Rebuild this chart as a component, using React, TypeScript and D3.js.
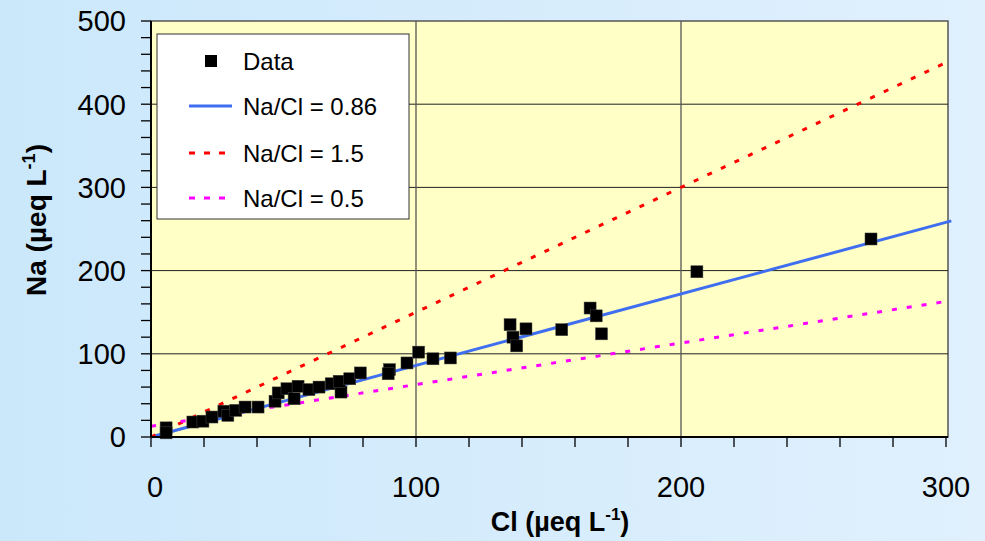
import { useEffect } from "react";
import * as d3 from "d3";

// Cl vs Na, both in µeq/L
const clValues = [
  5.7, 5.7, 15.8, 19.6, 23, 27.5, 29, 32, 35.5, 40.4, 46.8, 48, 51.3, 55.5, 54,
  59.6, 63.4, 68, 71.7, 71, 75, 79, 90, 89.5, 96.6, 101, 106.4, 113, 135.5,
  136.6, 138, 141.5, 155, 165.7, 168, 170, 206, 271.7,
];
const naValues = [
  11, 5, 18, 19, 24, 31, 26, 32, 36, 36, 43, 53, 58, 61, 46, 57, 60, 64, 54, 67,
  70, 77, 81, 76, 89, 102, 94, 95, 135, 120, 109.5, 130, 129, 155, 145.6, 124,
  198.6, 238,
];

const lineLabels = ["Na/Cl = 0.86", "Na/Cl = 1.5", "Na/Cl = 0.5"];
const lineSlopes = [0.86, 1.5, 0.5];
const lineIntercepts = [0, 0, 13];
const lineStarts = [0, 0, 0];
const lineEnds = [302, 300, 300];

const xTicks = [0, 100, 200, 300];
const yTicks = [0, 100, 200, 300, 400, 500];
const xGrid = [100, 200];
const yGrid = [100, 200, 300, 400];

const W = 985;
const H = 541;
const margin = { left: 151, right: 37, top: 21, bottom: 104 };

const lineColors = ["#3f6ff0", "#ff0000", "#ff00ff"];
const lineDash = [null, "5,10", "5,10"];

export default function App() {
  useEffect(() => {
    document.body.style.margin = "0";
  }, []);

  const x = d3
    .scaleLinear()
    .domain([0, 300])
    .range([margin.left, W - margin.right - 2]);
  const y = d3
    .scaleLinear()
    .domain([0, 500])
    .range([H - margin.bottom, margin.top]);

  const plotRight = W - margin.right;
  const minorX = d3.range(0, 301, 20);
  const minorY = d3.range(0, 501, 20);

  const legendX = 157;
  const legendY = 34;
  const legendRows = [61, 106, 153, 198];

  const font = "Arial, 'Liberation Sans', sans-serif";

  return (
    <svg width={W} height={H} style={{ display: "block", fontFamily: font }}>
      <defs>
        <linearGradient id="bg" x1="0" y1="0" x2="1" y2="0">
          <stop offset="0" stopColor="#cbe8fb" />
          <stop offset="1" stopColor="#e0f0fd" />
        </linearGradient>
      </defs>
      <rect x={0} y={0} width={W} height={H} fill="url(#bg)" />

      {/* plot area */}
      <rect
        x={margin.left}
        y={margin.top}
        width={plotRight - margin.left}
        height={y(0) - margin.top}
        fill="#ffffc6"
        stroke="#555"
        strokeWidth={1.5}
      />

      {/* grid */}
      {yGrid.map((v) => (
        <line key={"gy" + v} x1={margin.left} x2={plotRight} y1={y(v)} y2={y(v)} stroke="#222" strokeWidth={1} />
      ))}
      {xGrid.map((v) => (
        <line key={"gx" + v} x1={x(v)} x2={x(v)} y1={margin.top} y2={y(0)} stroke="#555" strokeWidth={1.3} />
      ))}

      {/* ratio lines */}
      {lineSlopes.map((s, i) => (
        <line
          key={"rl" + i}
          x1={x(lineStarts[i])}
          y1={y(lineIntercepts[i] + s * lineStarts[i])}
          x2={x(lineEnds[i])}
          y2={y(lineIntercepts[i] + s * lineEnds[i])}
          stroke={lineColors[i]}
          strokeWidth={3}
          strokeDasharray={lineDash[i] ?? undefined}
        />
      ))}

      {/* data */}
      {clValues.map((c, i) => (
        <rect
          key={"pt" + i}
          x={x(c) - 6}
          y={y(naValues[i]) - 6}
          width={12}
          height={12}
          fill="#000"
          stroke="#444"
          strokeWidth={0.5}
        />
      ))}

      {/* axes */}
      <line x1={margin.left} x2={margin.left} y1={margin.top} y2={y(0)} stroke="#000" strokeWidth={2} />
      <line x1={margin.left} x2={plotRight} y1={y(0)} y2={y(0)} stroke="#000" strokeWidth={2} />
      {minorY.map((v) => (
        <line key={"ty" + v} x1={margin.left - 10} x2={margin.left} y1={y(v)} y2={y(v)} stroke="#000" strokeWidth={1.3} />
      ))}
      {minorX.map((v) => (
        <line key={"tx" + v} x1={x(v)} x2={x(v)} y1={y(0)} y2={y(0) + 10} stroke="#000" strokeWidth={1.3} />
      ))}
      {yTicks.map((v) => (
        <text key={"ly" + v} x={126} y={y(v)} dy="0.36em" textAnchor="end" fontSize={29} fill="#000">
          {v}
        </text>
      ))}
      {xTicks.map((v) => (
        <text key={"lx" + v} x={x(v) + (v === 0 ? 4 : 0)} y={497} textAnchor="middle" fontSize={29} fill="#000">
          {v}
        </text>
      ))}

      {/* axis titles */}
      <text x={560} y={531} textAnchor="middle" fontSize={27} fontWeight="bold" fill="#000">
        Cl (µeq L
        <tspan dy={-11} fontSize={17}>-1</tspan>
        <tspan dy={11}>)</tspan>
      </text>
      <text
        transform="translate(46,220) rotate(-90)"
        textAnchor="middle"
        fontSize={28}
        fontWeight="bold"
        fill="#000"
      >
        Na (µeq L
        <tspan dy={-11} fontSize={18}>-1</tspan>
        <tspan dy={11}>)</tspan>
      </text>

      {/* legend */}
      <rect x={legendX} y={legendY} width={252} height={185} fill="#fff" stroke="#333" strokeWidth={1} />
      <rect x={205} y={legendRows[0] - 6} width={12} height={12} fill="#000" />
      <text x={243} y={legendRows[0]} dy="0.36em" fontSize={24} fill="#000">Data</text>
      {lineLabels.map((lab, i) => (
        <g key={"lg" + i}>
          <line
            x1={189}
            x2={232}
            y1={legendRows[i + 1]}
            y2={legendRows[i + 1]}
            stroke={lineColors[i]}
            strokeWidth={3}
            strokeDasharray={lineDash[i] ? "6,9" : undefined}
          />
          <text x={243} y={legendRows[i + 1]} dy="0.36em" fontSize={24} fill="#000">
            {lab}
          </text>
        </g>
      ))}
    </svg>
  );
}
